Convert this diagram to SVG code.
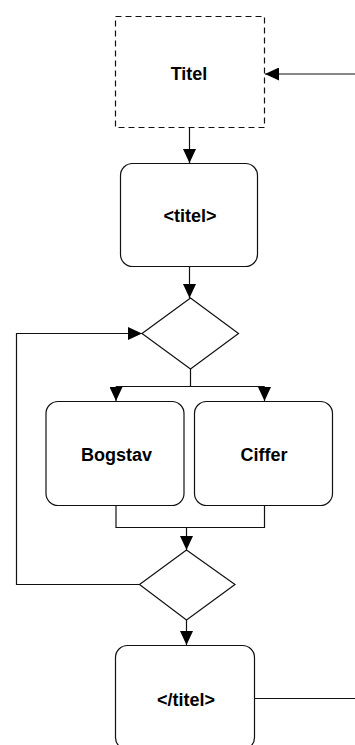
<svg xmlns="http://www.w3.org/2000/svg" width="355" height="745" viewBox="0 0 355 745">
  <style>
    .box { fill: #fff; stroke: #111; stroke-width: 1.2; }
    .dash { fill: #fff; stroke: #111; stroke-width: 1.2; stroke-dasharray: 6 4; }
    .edge { fill: none; stroke: #111; stroke-width: 1.2; }
    .lbl { font-family: "Liberation Sans", Arial, sans-serif; font-weight: bold; font-size: 18px; fill: #000; text-anchor: middle; }
  </style>
  <defs>
    <marker id="arrow" viewBox="0 0 14 13" refX="14" refY="6.5" markerWidth="14" markerHeight="13" markerUnits="userSpaceOnUse" orient="auto">
      <path d="M0,0 L14,6.5 L0,13 Z" fill="#000"/>
    </marker>
  </defs>

  <!-- connectors -->
  <g id="connectors">
    <path class="edge" d="M355,74 H265" marker-end="url(#arrow)"/>
    <path class="edge" d="M189.5,127 V163" marker-end="url(#arrow)"/>
    <path class="edge" d="M189.5,266 V298" marker-end="url(#arrow)"/>
    <path class="edge" d="M190.5,369 V386.5"/>
    <path class="edge" d="M116,386.5 H264.5"/>
    <path class="edge" d="M116,386.5 V401" marker-end="url(#arrow)"/>
    <path class="edge" d="M264.5,386.5 V401" marker-end="url(#arrow)"/>
    <path class="edge" d="M116,505 V527.5 H264.5 V505"/>
    <path class="edge" d="M186.5,527.5 V550" marker-end="url(#arrow)"/>
    <path class="edge" d="M139.5,584.5 H16.5 V333.5 H142" marker-end="url(#arrow)"/>
    <path class="edge" d="M186.5,620 V645" marker-end="url(#arrow)"/>
    <path class="edge" d="M254,698.5 H355"/>
  </g>

  <g id="titel-start">
    <rect class="dash" x="115.5" y="16.5" width="149" height="111"/>
    <text class="lbl" x="189" y="79.5">Titel</text>
  </g>

  <g id="titel-open">
    <rect class="box" x="120.5" y="163.5" width="137" height="103" rx="12" ry="12"/>
    <text class="lbl" x="190" y="222">&lt;titel&gt;</text>
  </g>

  <g id="choice-split">
    <polygon class="box" points="190.5,298 238.5,333.5 190.5,369 142,333.5"/>
  </g>

  <g id="bogstav">
    <rect class="box" x="46" y="401.5" width="138" height="104" rx="12" ry="12"/>
    <text class="lbl" x="116.5" y="461">Bogstav</text>
  </g>

  <g id="ciffer">
    <rect class="box" x="194.5" y="401.5" width="138" height="104" rx="12" ry="12"/>
    <text class="lbl" x="264" y="461">Ciffer</text>
  </g>

  <g id="choice-join">
    <polygon class="box" points="186.5,550 235,584.5 186.5,620 139.5,584.5"/>
  </g>

  <g id="titel-close">
    <rect class="box" x="115.5" y="645.5" width="139" height="104" rx="12" ry="12"/>
    <text class="lbl" x="186" y="706">&lt;/titel&gt;</text>
  </g>
</svg>
